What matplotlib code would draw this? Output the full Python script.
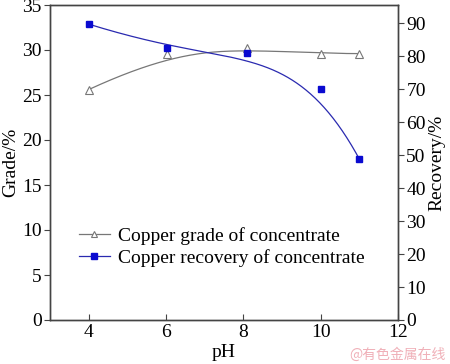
import numpy as np
import matplotlib
matplotlib.use("Agg")
import matplotlib.pyplot as plt
from matplotlib.lines import Line2D

plt.rcParams['font.family'] = ['Liberation Serif', 'DejaVu Serif']

ph = [4, 6.02, 8.1, 10.02, 11.0]
grade = [25.6, 29.6, 30.2, 29.6, 29.6]
ph_r = [4, 6.02, 8.1, 10.02, 11.0]
recovery = [89.7, 82.4, 81.0, 70.0, 48.8]

xticks = [4, 6, 8, 10, 12]
yticks_l = [0, 5, 10, 15, 20, 25, 30, 35]
yticks_r = [0, 10, 20, 30, 40, 50, 60, 70, 80, 90]


def bspline(px, py, degree=3, n=400):
    """Clamped B-spline using the data points as control points."""
    P = np.column_stack([px, py]).astype(float)
    m = len(P)
    p = min(degree, m - 1)
    inner = np.linspace(0, 1, m - p + 1)[1:-1]
    knots = np.concatenate([np.zeros(p + 1), inner, np.ones(p + 1)])
    t = np.linspace(0, 1, n)
    t[-1] = 1 - 1e-12

    def basis(i, k, t):
        if k == 0:
            return ((knots[i] <= t) & (t < knots[i + 1])).astype(float)
        out = np.zeros_like(t)
        d1 = knots[i + k] - knots[i]
        d2 = knots[i + k + 1] - knots[i + 1]
        if d1 > 0:
            out += (t - knots[i]) / d1 * basis(i, k - 1, t)
        if d2 > 0:
            out += (knots[i + k + 1] - t) / d2 * basis(i + 1, k - 1, t)
        return out

    B = np.column_stack([basis(i, p, t) for i in range(m)])
    C = B @ P
    return C[:, 0], C[:, 1]


fig = plt.figure(figsize=(4.5, 3.64), dpi=100)
ax = fig.add_axes([50/450, 1-320/364, 348/450, 315/364])
ax2 = ax.twinx()

grey = '#777777'
blue = '#2a2ab0'

gx, gy = bspline(ph, grade)
ax.plot(gx, gy, color=grey, lw=0.9)
ax.plot(ph, grade, ls='none', marker='^', ms=5.5, mfc='white', mec=grey, mew=0.8)

rx, ry = bspline(ph_r, recovery)
ax2.plot(rx, ry, color=blue, lw=0.9)
ax2.plot(ph_r, recovery, ls='none', marker='s', ms=4.5, mfc='#0a0ad0', mec='#0a0ad0')

ax.set_xlim(3, 12)
ax.set_ylim(0, 35)
ax2.set_ylim(0, 95.5)
ax.set_xticks(xticks)
ax.set_yticks(yticks_l)
ax2.set_yticks(yticks_r)

fs = 14
ax.tick_params(axis='x', direction='in', length=4, labelsize=fs, pad=3, color='#444444')
ax.tick_params(axis='y', direction='out', length=4, labelsize=fs, pad=2, color='#444444')
ax2.tick_params(axis='y', direction='out', length=4, labelsize=fs, pad=2, color='#444444')
for a in (ax, ax2):
    for s in a.spines.values():
        s.set_color('#444444')
        s.set_linewidth(1.0)

ax.set_xlabel('pH', fontsize=fs, labelpad=2)
ax.set_ylabel('Grade/%', fontsize=fs, labelpad=2)
ax2.set_ylabel('Recovery/%', fontsize=fs, labelpad=2)

h1 = Line2D([], [], color=grey, lw=0.9, marker='^', ms=5, mfc='white', mec=grey, mew=0.8)
h2 = Line2D([], [], color=blue, lw=0.9, marker='s', ms=4, mfc='#0a0ad0', mec='#0a0ad0')
ax.legend([h1, h2], ['Copper grade of concentrate', 'Copper recovery of concentrate'],
          loc='upper left', bbox_to_anchor=(0.06, 0.32), frameon=False, fontsize=fs,
          handlelength=1.6, handletextpad=0.4, labelspacing=0.2, borderaxespad=0)

fig.text(0.99, 0.005, '@有色金属在线', color='#f0b0b8', fontsize=10, ha='right', va='bottom',
         family=['Noto Sans CJK SC', 'DejaVu Sans'])

fig.savefig('out.png', dpi=100)
